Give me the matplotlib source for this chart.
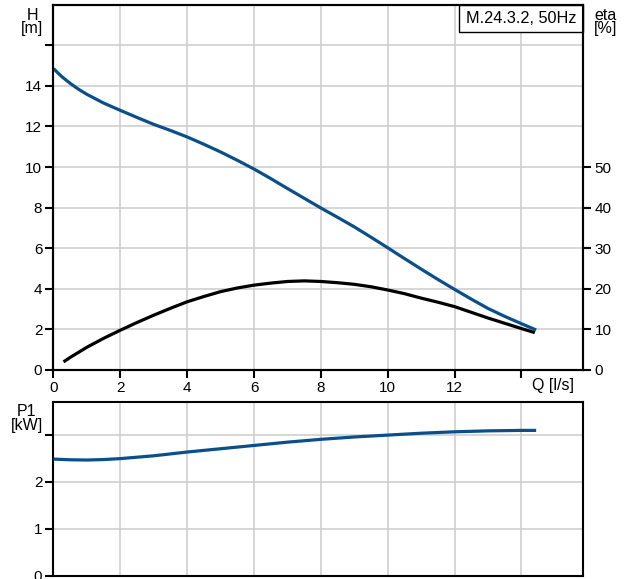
import numpy as np
import matplotlib
matplotlib.use("Agg")
import matplotlib.pyplot as plt
from matplotlib.patches import Rectangle

plt.rcParams['font.family'] = ['Liberation Sans', 'DejaVu Sans']
plt.rcParams['font.size'] = 11

# valores (cada 0.5 l/s)
q_h = [0.0, 0.25, 0.5, 0.75, 1, 1.5, 2, 2.5, 3, 3.5, 4, 4.5, 5, 5.5, 6, 6.5, 7, 7.5,
       8, 8.5, 9, 9.5, 10, 10.5, 11, 11.5, 12, 12.5, 13, 13.5, 14, 14.44]
h = [14.85, 14.45, 14.12, 13.83, 13.58, 13.15, 12.79, 12.44, 12.10, 11.80, 11.48, 11.12,
     10.74, 10.33, 9.90, 9.43, 8.94, 8.46, 7.98, 7.52, 7.05, 6.54, 6.02, 5.49, 4.97, 4.46,
     3.97, 3.49, 3.03, 2.64, 2.28, 1.97]

q_eta = [0.3, 0.5, 1, 1.5, 2, 2.5, 3, 3.5, 4, 4.5, 5, 5.5, 6, 6.5, 7, 7.5, 8, 8.5, 9, 9.5,
         10, 10.5, 11, 11.5, 12, 12.5, 13, 13.5, 14, 14.4]
eta = [2.0, 3.1, 5.6, 7.8, 9.8, 11.7, 13.5, 15.2, 16.8, 18.1, 19.3, 20.2, 20.9, 21.4, 21.8,
       21.95, 21.8, 21.5, 21.1, 20.5, 19.7, 18.8, 17.7, 16.7, 15.6, 14.2, 12.8, 11.5, 10.2, 9.2]

q_p1 = [0, 0.5, 1, 1.5, 2, 2.5, 3, 3.5, 4, 4.5, 5, 5.5, 6, 6.5, 7, 7.5, 8, 8.5, 9, 9.5,
        10, 10.5, 11, 11.5, 12, 12.5, 13, 13.5, 14, 14.44]
p1 = [2.48, 2.465, 2.46, 2.47, 2.49, 2.52, 2.55, 2.59, 2.63, 2.665, 2.70, 2.735, 2.77, 2.805,
      2.84, 2.87, 2.90, 2.925, 2.95, 2.97, 2.99, 3.01, 3.03, 3.045, 3.06, 3.07, 3.08, 3.085,
      3.09, 3.09]

x_ticks = [0, 2, 4, 6, 8, 10, 12, 14]
x_labels = ['0', '2', '4', '6', '8', '10', '12', '']
h_ticks = [0, 2, 4, 6, 8, 10, 12, 14, 16]
h_labels = ['0', '2', '4', '6', '8', '10', '12', '14', '']
eta_ticks = [0, 10, 20, 30, 40, 50]
p1_ticks = [0, 1, 2, 3]
p1_labels = ['0', '1', '2', '']

AZUL = '#0b4f8a'
GRIS = '#cccccc'

fig = plt.figure(figsize=(6.27, 5.79), dpi=100)
ax = fig.add_axes([0.0853, 0.361, 0.845, 0.631])
ax2 = ax.twinx()
axp = fig.add_axes([0.0853, 0.0057, 0.845, 0.3005])

def estilo(a):
    for s in a.spines.values():
        s.set_linewidth(1.5)
    a.tick_params(direction='out', length=5.5, width=1.5, pad=2.5, labelsize=11)

# panel superior
ax.plot(q_h, h, color=AZUL, lw=2.3, solid_capstyle='butt', zorder=3)
ax.set_xlim(0, 15.85)
ax.set_ylim(0, 18)
ax.set_xticks(x_ticks)
ax.set_xticklabels(x_labels)
ax.set_yticks(h_ticks)
ax.set_yticklabels(h_labels)
ax.grid(True, color=GRIS, lw=1.1)
ax.set_axisbelow(True)
estilo(ax)

ax2.plot(q_eta, eta, color='black', lw=2.3, solid_capstyle='butt', zorder=3)
ax2.set_ylim(0, 90)
ax2.set_yticks(eta_ticks)
estilo(ax2)

ax.add_patch(Rectangle((0.7657, 0.9245), 1 - 0.7657, 1 - 0.9245, transform=ax.transAxes,
                       facecolor='white', edgecolor='black', lw=1.0, zorder=5, clip_on=False))
ax.text(0.8828, 0.962, 'M.24.3.2, 50Hz', transform=ax.transAxes, ha='center', va='center',
        fontsize=11.7, zorder=6)

# panel inferior
axp.plot(q_p1, p1, color=AZUL, lw=2.3, solid_capstyle='butt', zorder=3)
axp.set_xlim(0, 15.85)
axp.set_ylim(0, 3.7)
axp.set_xticks(x_ticks)
axp.set_yticks(p1_ticks)
axp.set_yticklabels(p1_labels)
axp.grid(True, color=GRIS, lw=1.1)
axp.set_axisbelow(True)
estilo(axp)
axp.tick_params(axis='x', length=0, labelbottom=False)

fig.text(32 / 627, 1 - 22 / 579, 'H\n[m]', ha='center', va='center', linespacing=0.85, fontsize=11.5)
fig.text(605.5 / 627, 1 - 22 / 579, 'eta\n[%]', ha='center', va='center', linespacing=0.85, fontsize=11.5)
fig.text(26.5 / 627, 1 - 418.5 / 579, 'P1\n[kW]', ha='center', va='center', linespacing=0.85, fontsize=11.5)
fig.text(553 / 627, 1 - 385.5 / 579, 'Q [l/s]', ha='center', va='center', fontsize=11.5)

fig.savefig('out.png', dpi=100)
